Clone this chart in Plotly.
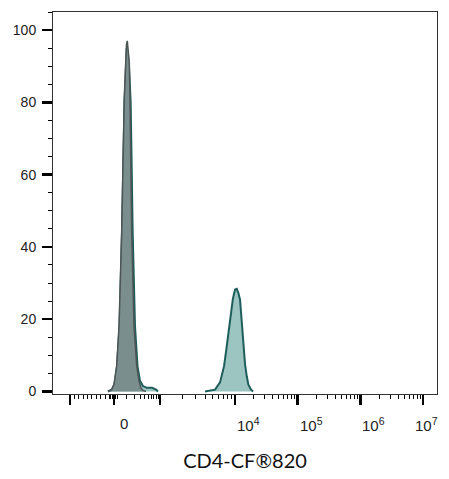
import numpy as np
import plotly.graph_objects as go

# ---- data (x in biexponential display units: decade k -> 10^k) ----
gray_x = [1.976, 2.035, 2.072, 2.115, 2.152, 2.195, 2.236, 2.252, 2.271, 2.284,
          2.300, 2.316, 2.327, 2.354, 2.391, 2.434, 2.470, 2.502, 2.534, 2.582]
gray_y = [0, 0.5, 2, 7, 18, 44, 81, 91, 96, 97, 94, 91, 81, 44, 18, 7, 3, 1, 0.3, 0]

teal_x = [1.976, 2.040, 2.080, 2.120, 2.160, 2.199, 2.239, 2.258, 2.274, 2.290,
          2.311, 2.338, 2.370, 2.407, 2.447, 2.486, 2.534, 2.598, 2.678, 2.742, 2.774,
          None,
          3.523, 3.603, 3.683, 3.762, 3.826, 3.869, 3.906, 3.938, 3.965, 3.978,
          4.002, 4.029, 4.054, 4.081, 4.105, 4.134, 4.161, 4.188, 4.214, 4.257, 4.289]
teal_y = [0, 0.5, 2, 7, 18, 44, 80, 90, 95, 94, 90, 80, 44, 18, 7, 3, 1.5, 1, 1, 0.5, 0,
          None,
          0, 0.3, 0.5, 2.5, 7, 12.5, 18, 22, 25.4, 26.5, 28.2, 28.4, 27.3, 25.4,
          19.5, 12.5, 7.5, 4.2, 1.9, 0.5, 0]

# major tick positions (display units) and their labels
major_ticks = [1.370, 2.072, 2.805, 4.0, 5.0, 6.0, 7.0]
major_labels = ["", "0", "", "10<sup>4</sup>", "10<sup>5</sup>", "10<sup>6</sup>", "10<sup>7</sup>"]
label_shift = [0, 10, 0, 14, 14, 13, 3]

x_title = "CD4-CF®820"

# ---- minor ticks derived from the biexponential scale ----
neg0, zero, pos3 = major_ticks[0], major_ticks[1], major_ticks[2]
minor = []
minor += [neg0 + (zero - neg0) * f for f in np.arange(1, 10) / 10.0]
minor += [zero + (pos3 - zero) * np.log10(1 + 9 * f) for f in np.arange(1, 10) / 10.0]
minor += [zero - 0.05, zero - 0.03, zero + 0.03, zero + 0.05]
minor += [pos3 + np.log10(m) * (4.0 - pos3) for m in range(2, 10)]
for k in (4, 5, 6):
    minor += [k + np.log10(m) for m in range(2, 10)]

fig = go.Figure()
fig.add_trace(go.Scatter(x=teal_x, y=teal_y, mode="lines", fill="tozeroy",
                         fillcolor="#9cc4c1", line=dict(color="#1d5e5b", width=2),
                         connectgaps=False, hoverinfo="skip"))
fig.add_trace(go.Scatter(x=gray_x, y=gray_y, mode="lines", fill="tozeroy",
                         fillcolor="#7a8e8e", line=dict(color="#4d5555", width=1.5),
                         hoverinfo="skip"))

for xv, lab, sh in zip(major_ticks, major_labels, label_shift):
    if lab:
        fig.add_annotation(x=xv, xref="x", y=0, yref="paper", yanchor="top",
                           yshift=-19, xshift=sh, text=lab, showarrow=False,
                           font=dict(family="Liberation Sans, Arial", size=15, color="#222"))

fig.update_layout(
    width=449, height=479,
    margin=dict(l=53, r=12, t=12, b=85, autoexpand=False),
    paper_bgcolor="white", plot_bgcolor="white",
    showlegend=False,
    xaxis=dict(range=[1.10, 7.22], showgrid=False, zeroline=False, automargin=False,
               showline=True, linecolor="#333", linewidth=1, mirror=True,
               tickmode="array", tickvals=major_ticks, showticklabels=False,
               ticks="outside", ticklen=10, tickwidth=2.5, tickcolor="black",
               minor=dict(tickmode="array", tickvals=minor, ticks="outside",
                          ticklen=4, tickwidth=1, tickcolor="black"),
               title=dict(text=x_title, standoff=49,
                          font=dict(family="Lato", size=20, color="#111"))),
    yaxis=dict(range=[-0.7, 105], showgrid=False, zeroline=False, automargin=False,
               showline=True, linecolor="#333", linewidth=1, mirror=True,
               tickmode="linear", tick0=0, dtick=20, ticklabelstandoff=3,
               ticks="outside", ticklen=10, tickwidth=2.5, tickcolor="black",
               minor=dict(dtick=5, ticks="outside", ticklen=4, tickwidth=1, tickcolor="black"),
               tickfont=dict(family="Liberation Sans, Arial", size=14, color="#222")),
)

fig.write_html("out.html", config={"displayModeBar": False, "staticPlot": True},
               post_script="document.body.style.margin='0';document.body.style.overflow='hidden';")
